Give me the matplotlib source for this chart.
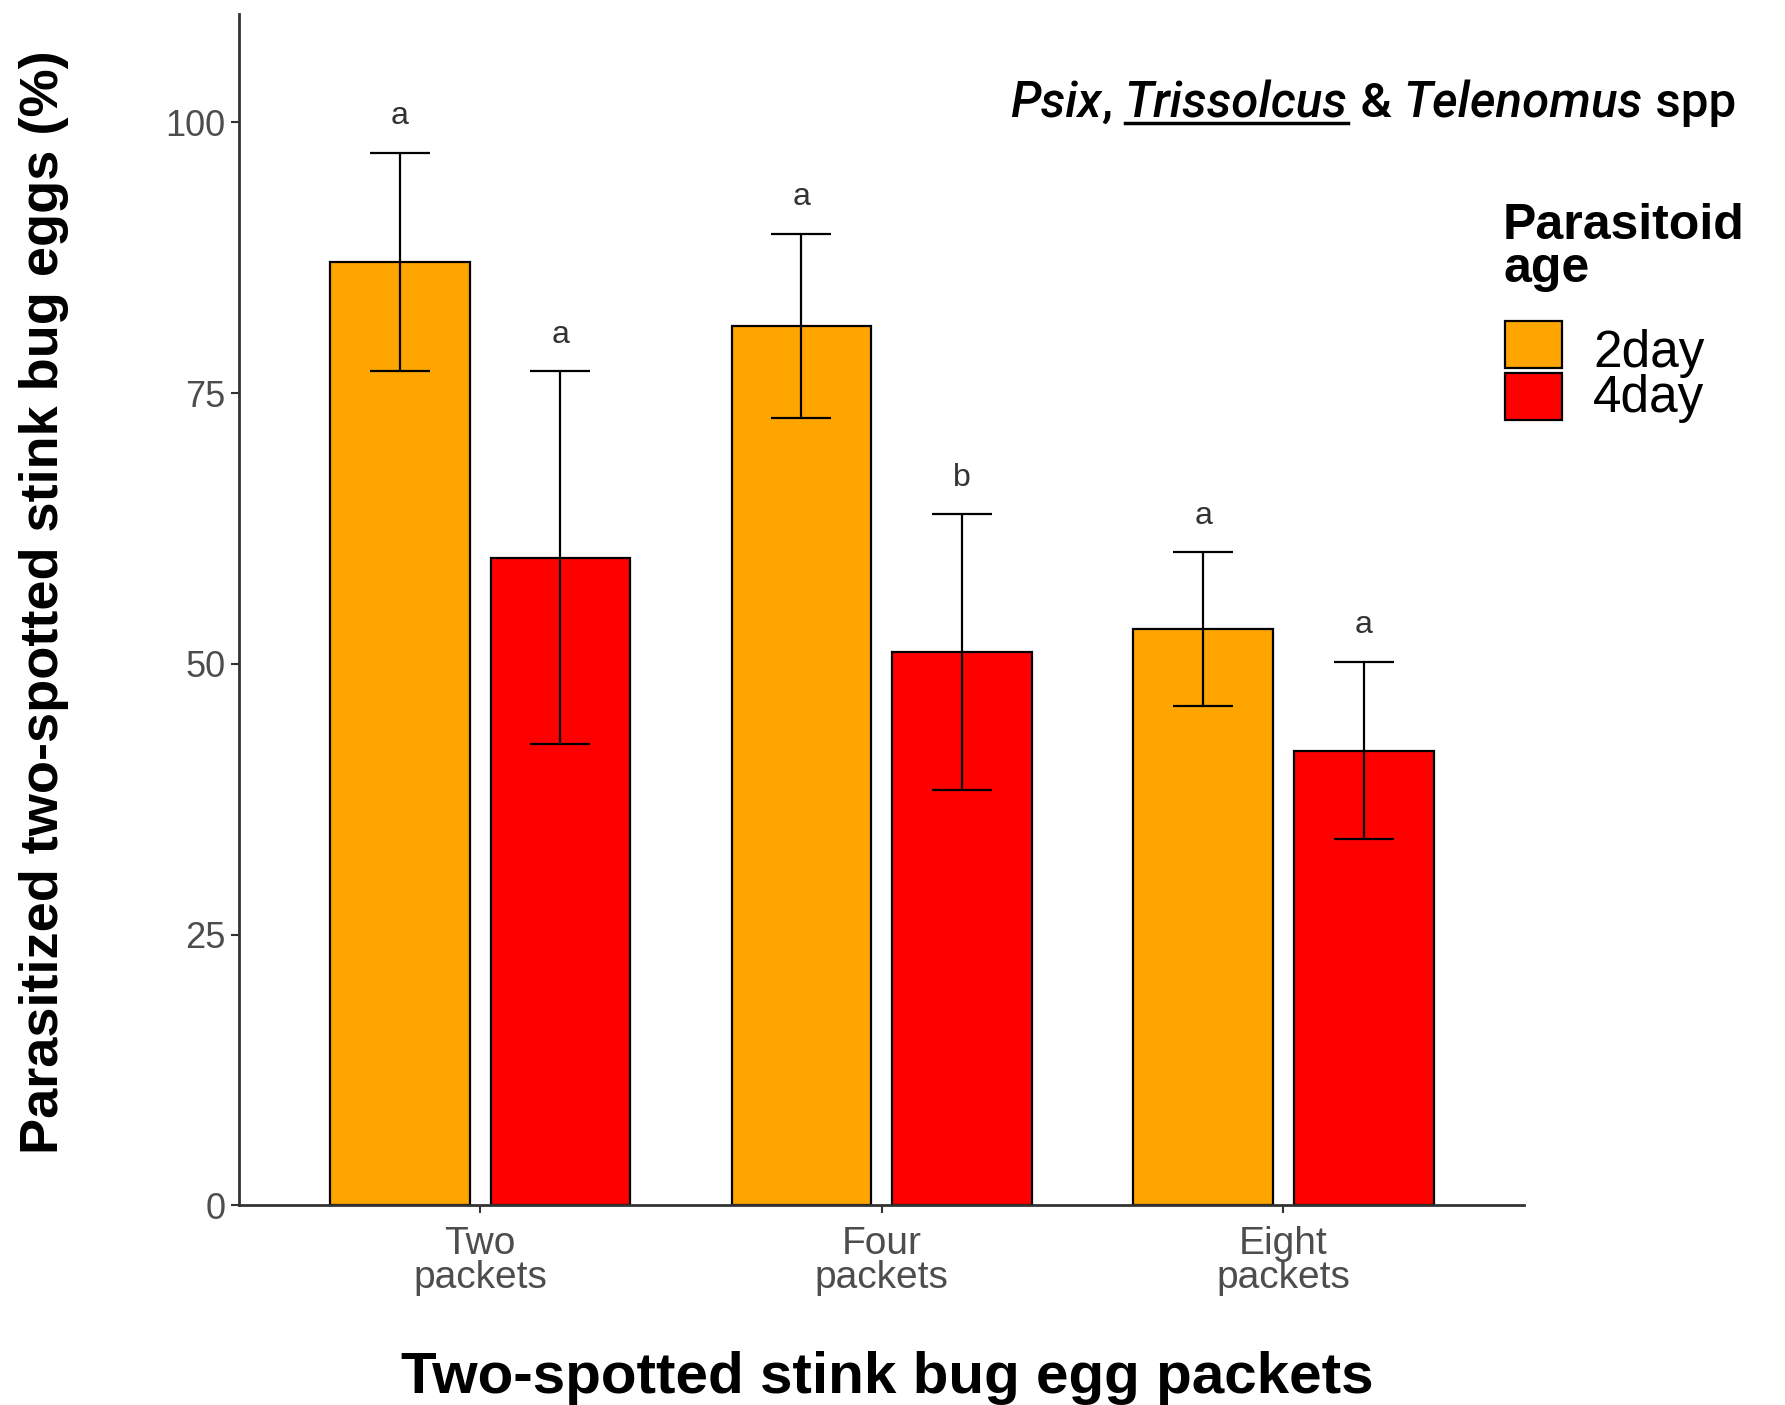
import matplotlib
matplotlib.use("Agg")
import matplotlib.pyplot as plt
from matplotlib.patches import Rectangle
import numpy as np

categories = ["Two\npackets", "Four\npackets", "Eight\npackets"]
groups = ["2day", "4day"]
means_2day = [87.1, 81.2, 53.2]
means_4day = [59.8, 51.1, 42.0]
err_2day = [10.1, 8.5, 7.1]
err_4day = [17.2, 12.7, 8.2]
letters_2day = ["a", "a", "a"]
letters_4day = ["a", "b", "a"]
colors = ["#FFA500", "#FF0000"]

plt.rcParams['font.family'] = ['Liberation Sans', 'DejaVu Sans']

W, H = 1785, 1405
fig = plt.figure(figsize=(W / 100, H / 100), dpi=100)
ax = fig.add_axes([0.134, 0.142, 0.720, 0.848])

x = np.arange(1, len(categories) + 1)
off = 0.2
w = 0.348
for i, (m, e, lt) in enumerate([(means_2day, err_2day, letters_2day),
                                (means_4day, err_4day, letters_4day)]):
    xs = x + (i - 0.5) * 2 * off
    ax.bar(xs, m, width=w, color=colors[i], edgecolor="black", linewidth=1.6,
           label=groups[i], zorder=2)
    ax.errorbar(xs, m, yerr=e, fmt="none", ecolor="black", elinewidth=1.6,
                capsize=21.5, capthick=1.6, zorder=3)
    for xx, mm, ee, l in zip(xs, m, e, lt):
        ax.text(xx, mm + ee + 2.0, l, ha="center", va="bottom", fontsize=23,
                color="#333333")

ax.set_xlim(0.4, 3.6)
ax.set_ylim(0, 110)
ax.set_yticks([0, 25, 50, 75, 100])
ax.set_xticks(x)
ax.set_xticklabels(categories, fontsize=28, color="#4d4d4d", linespacing=0.92)
ax.tick_params(axis="y", labelsize=26, labelcolor="#4d4d4d", length=6, width=1.5,
               color="#333333", pad=4)
ax.tick_params(axis="x", length=6, width=1.5, color="#333333", pad=9)
for s in ["top", "right"]:
    ax.spines[s].set_visible(False)
for s in ["left", "bottom"]:
    ax.spines[s].set_color("#333333")
    ax.spines[s].set_linewidth(2)

ax.set_ylabel("Parasitized two-spotted stink bug eggs (%)", fontsize=39,
              fontweight="bold")
ax.yaxis.label.set_va("center")
ax.yaxis.set_label_coords((44 - 239) / 1285, 0.506)
ax.set_xlabel("Two-spotted stink bug egg packets", fontsize=42,
              fontweight="bold")
ax.xaxis.label.set_va("center")
ax.xaxis.set_label_coords(0.504, -0.145)

# legend (drawn in figure pixels)
def fx(px):
    return px / W

def fy(py):
    return 1 - py / H

fig.text(fx(1503), fy(239), "Parasitoid", fontsize=36, fontweight="bold",
         ha="left", va="baseline")
fig.text(fx(1503), fy(282), "age", fontsize=36, fontweight="bold",
         ha="left", va="baseline")
key_tops = [321, 373]
label_base = [367, 412]
for c, g, kt, lb in zip(colors, groups, key_tops, label_base):
    fig.add_artist(Rectangle((fx(1505), fy(kt + 47)), 57 / W, 47 / H,
                             facecolor=c, edgecolor="black", linewidth=1.6,
                             transform=fig.transFigure))
    fig.text(fx(1593), fy(lb), g, fontsize=37, ha="left", va="baseline")

# title with mixed styles
pieces = [("Psix", "italic", False), (", ", "normal", False),
          ("Trissolcus", "italic", True), (" & ", "normal", False),
          ("Telenomus", "italic", False), (" spp", "normal", False)]
fig.canvas.draw()
r = fig.canvas.get_renderer()
xpx = 1010
ypx = H - 117
for txt, style, ul in pieces:
    t = fig.text(xpx / W, ypx / H, txt, fontsize=35.5, style=style,
                 family=["Roboto", "DejaVu Sans"], weight="medium",
                 ha="left", va="baseline")
    bb = t.get_window_extent(renderer=r)
    if ul:
        fig.add_artist(plt.Line2D([bb.x0 / W, bb.x1 / W],
                                  [(ypx - 6) / H] * 2, color="black", lw=2.5,
                                  transform=fig.transFigure))
    xpx = bb.x1

fig.savefig("out.png", dpi=100)
